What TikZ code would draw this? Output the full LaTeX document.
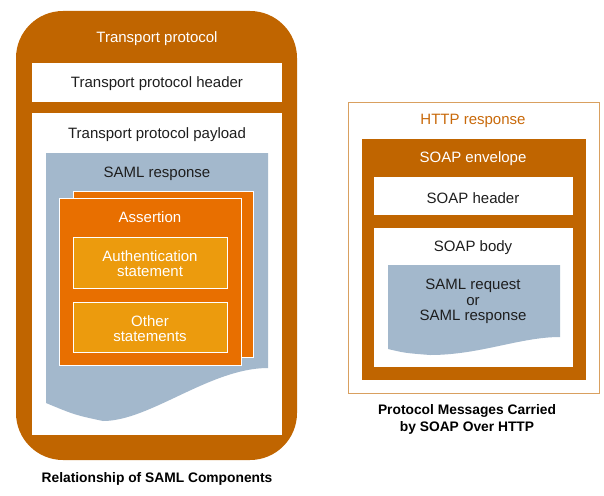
\documentclass[tikz,border=0pt]{standalone}
\usepackage{fontspec}
\setmainfont{Liberation Sans}
\usetikzlibrary{positioning}
\definecolor{rustbrown}{HTML}{C06500}
\definecolor{assertorange}{HTML}{E86F00}
\definecolor{stmtorange}{HTML}{EC9B0D}
\definecolor{docblue}{HTML}{A3B8CC}
\definecolor{httporange}{HTML}{C8690A}
\definecolor{httpline}{HTML}{D9A060}
\definecolor{inktext}{HTML}{1E1E1E}
\tikzset{
  label/.style = {font=\fontsize{15}{15.5}\selectfont, text=inktext, align=center, inner sep=0pt, yshift=-1.5pt},
  whitelabel/.style = {label, text=white},
  caption/.style = {font=\fontsize{13.8}{17}\selectfont\bfseries, text=black, align=center, inner sep=0pt, yshift=-1pt},
  card/.style = {fill=assertorange, draw=white, line width=1pt},
  stmtbox/.style = {fill=stmtorange, draw=white, line width=1pt}
}
\begin{document}
\begin{tikzpicture}[x=1pt, y=-1pt]
    \useasboundingbox (0,0) rectangle (604,495);
    \fill[rustbrown, rounded corners=47pt] (16,11) rectangle (297,460);
    \fill[white] (32,63) rectangle (282,102);
    \fill[white] (32,113) rectangle (282,435);
    \fill[docblue] (46,403) .. controls (75,415) .. (103,421) .. controls (150,421) and (210,368) .. (268,368) -- (268,153) -- (46,153) -- cycle;
    \draw[card] (73,191) rectangle (253,357);
    \draw[card] (59,198) rectangle (241,365);
    \draw[stmtbox] (73,237) rectangle (227,288);
    \draw[stmtbox] (73,302) rectangle (227,352);
    \node[whitelabel] (tp) at (157,37) {Transport protocol};
    \node[label] (tph) at (157,82) {Transport protocol header};
    \node[label] (tpp) at (157,133) {Transport protocol payload};
    \node[label] (samlresp) at (157,172) {SAML response};
    \node[whitelabel] (assert) at (150,216) {Assertion};
    \node[whitelabel] (authst) at (150,262) {Authentication\\statement};
    \node[whitelabel] (otherst) at (150,327) {Other\\statements};
    \node[caption] (leftcap) at (157,478) {Relationship of SAML Components};

    \draw[httpline, line width=1pt] (348,102) rectangle (599,393);
    \fill[rustbrown] (362,139) rectangle (586,380);
    \fill[white] (374,177) rectangle (573,215);
    \fill[white] (374,228) rectangle (573,367);
    \fill[docblue] (388,349) .. controls (405,353) .. (430,355) .. controls (480,355) and (520,337) .. (560,337) -- (560,265) -- (388,265) -- cycle;
    \node[label, text=httporange] (http) at (473,119) {HTTP response};
    \node[whitelabel] (soapenv) at (473,157) {SOAP envelope};
    \node[label] (soaphead) at (473,197) {SOAP header};
    \node[label] (soapbody) at (473,246) {SOAP body};
    \node[label] (samlreq) at (473,300) {SAML request\\or\\SAML response};
    \node[caption] (rightcap) at (467,418) {Protocol Messages Carried\\by SOAP Over HTTP};
\end{tikzpicture}
\end{document}
